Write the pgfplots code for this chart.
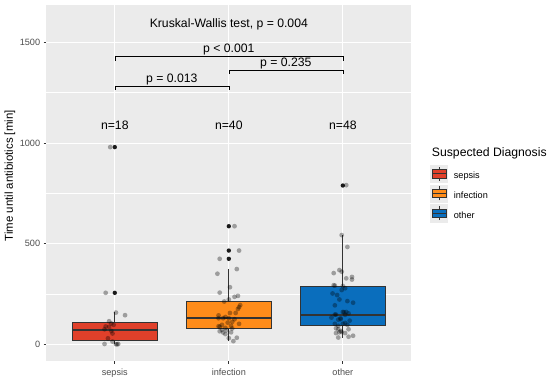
\documentclass[border=0pt]{standalone}
\usepackage{fontspec}
\setmainfont{Liberation Sans}
\usepackage{pgfplots}
\pgfplotsset{compat=1.18}
\usepackage{pgfplotstable}
\definecolor{panel}{HTML}{EBEBEB}
\definecolor{csep}{HTML}{E0402A}
\definecolor{cinf}{HTML}{FF8C1A}
\definecolor{coth}{HTML}{0A6EBD}
\definecolor{gtwenty}{HTML}{333333}
\definecolor{gthirty}{HTML}{4D4D4D}
\newcommand{\annfont}{\fontsize{12.3}{14}\selectfont}
\newcommand{\boxkey}[1]{\addlegendimage{legend image code/.code={
  \fill[panel] (0pt,-6.15pt) rectangle (17.3pt,11.15pt);
  \draw[gtwenty,line width=0.6pt] (8.65pt,-4.6pt) -- (8.65pt,9.6pt);
  \filldraw[fill=#1,draw=gtwenty,line width=0.6pt] (1.9pt,-1.8pt) rectangle (15.4pt,6.8pt);
  \draw[gtwenty,line width=1.1pt] (1.9pt,2.5pt) -- (15.4pt,2.5pt);
}}}
\pgfplotstableread{
x y
0.96 980
0.92 256
1.01 158
1.09 145
0.95 115
0.99 97
0.92 89
0.95 87
0.91 75
0.97 67
0.98 54
0.94 30
0.98 14
0.91 2
1.01 1
1.02 0
1.03 2
0.97 104
}\sepsispts
\pgfplotstableread{
x y
2.05 587
2.09 466
1.92 425
2.07 374
1.90 351
2.01 284
1.92 257
2.05 236
2.08 241
2.00 223
1.96 213
2.10 195
2.09 185
2.08 176
2.06 156
2.01 156
1.91 144
1.97 136
1.95 130
2.00 130
2.05 125
1.91 130
2.03 112
2.09 102
1.99 108
1.94 97
1.91 90
1.92 88
2.02 92
1.97 82
2.03 79
1.98 70
1.92 65
1.95 59
1.97 51
2.02 60
2.07 33
2.00 31
2.04 16
1.94 72
}\infpts
\pgfplotstableread{
x y
3.03 791
2.99 543
3.04 484
2.97 369
2.99 361
2.92 354
3.08 335
3.08 322
3.03 328
2.92 294
3.00 290
3.02 279
2.91 253
2.95 245
2.97 223
3.04 215
3.09 207
2.93 194
3.00 161
3.03 161
3.05 154
2.93 148
2.94 148
3.02 147
2.90 133
2.98 130
2.96 123
3.06 118
3.02 107
2.93 102
3.00 102
2.96 92
3.04 97
2.94 80
2.96 75
3.05 75
2.98 67
2.94 56
3.02 56
2.97 60
3.09 43
3.05 38
2.96 34
2.99 62
2.98 125
3.01 160
2.93 292
2.99 270
}\otherpts
\begin{document}
\begin{tikzpicture}
\begin{axis}[
  at={(0,0)}, anchor=south west,
  scale only axis, width=367.3pt, height=358.3pt,
  xmin=0.4, xmax=3.6, ymin=-82, ymax=1686,
  axis background/.style={fill=panel},
  axis line style={draw=none},
  axis lines*=left,
  xtick={1,2,3}, xticklabels={sepsis,infection,other},
  ytick={0,500,1000,1500},
  minor ytick={250,750,1250},
  minor tick length=0pt,
  grid=both,
  major grid style={white,line width=1pt},
  minor grid style={white,line width=0.5pt},
  tick align=outside, major tick length=2.75pt,
  tick style={gtwenty,line width=0.8pt},
  /pgf/number format/assume math mode=true,
  /pgf/number format/1000 sep={},
  tick label style={gthirty,font=\fontsize{9.2}{11}\selectfont},
  xticklabel style={yshift=-1.5pt},
  ylabel={Time until antibiotics [min]},
  ylabel style={font=\fontsize{11.5}{13}\selectfont, at={(axis description cs:-0.0999,0.52)}, anchor=center},
  legend style={at={(1.0517,0.5515)}, anchor=north west, draw=none, fill=none, inner sep=0pt,
    font=\fontsize{9.2}{11}\selectfont, row sep=2.2pt, column sep=6pt,
    nodes={inner sep=0pt}},
  legend cell align=left,
  clip=false,
]
% whiskers
\addplot[gtwenty, line width=0.8pt, forget plot] coordinates {(1,0) (1,20)};
\addplot[gtwenty, line width=0.8pt, forget plot] coordinates {(1,110) (1,161)};
\addplot[gtwenty, line width=0.8pt, forget plot] coordinates {(2,15) (2,79)};
\addplot[gtwenty, line width=0.8pt, forget plot] coordinates {(2,215) (2,374)};
\addplot[gtwenty, line width=0.8pt, forget plot] coordinates {(3,33) (3,93)};
\addplot[gtwenty, line width=0.8pt, forget plot] coordinates {(3,289) (3,543)};
% boxes
\addplot[fill=csep, draw=gtwenty, line width=0.8pt, forget plot] coordinates {(0.625,20) (1.375,20) (1.375,110) (0.625,110) (0.625,20)};
\addplot[fill=cinf, draw=gtwenty, line width=0.8pt, forget plot] coordinates {(1.625,79) (2.375,79) (2.375,215) (1.625,215) (1.625,79)};
\addplot[fill=coth, draw=gtwenty, line width=0.8pt, forget plot] coordinates {(2.625,93) (3.375,93) (3.375,289) (2.625,289) (2.625,93)};
% medians
\addplot[gtwenty, line width=2pt, forget plot] coordinates {(0.625,72) (1.375,72)};
\addplot[gtwenty, line width=2pt, forget plot] coordinates {(1.625,130) (2.375,130)};
\addplot[gtwenty, line width=2pt, forget plot] coordinates {(2.625,146) (3.375,146)};
% outliers
\addplot[only marks, mark=*, mark size=2.2pt, mark options={fill=black!90, draw opacity=0}, forget plot] coordinates {(1,256) (1,980) (2,425) (2,466) (2,587) (3,789)};
% jittered points
\addplot[only marks, mark=*, mark size=2.4pt, mark options={fill=black, fill opacity=0.33, draw opacity=0}, forget plot] table[x=x,y=y] {\sepsispts};
\addplot[only marks, mark=*, mark size=2.4pt, mark options={fill=black, fill opacity=0.33, draw opacity=0}, forget plot] table[x=x,y=y] {\infpts};
\addplot[only marks, mark=*, mark size=2.4pt, mark options={fill=black, fill opacity=0.33, draw opacity=0}, forget plot] table[x=x,y=y] {\otherpts};
% brackets
\addplot[black, line width=0.6pt, forget plot] coordinates {(1,1410) (1,1431) (3,1431) (3,1410)};
\addplot[black, line width=0.6pt, forget plot] coordinates {(2,1345) (2,1359) (3,1359) (3,1345)};
\addplot[black, line width=0.6pt, forget plot] coordinates {(1,1266) (1,1280) (2,1280) (2,1266)};
\node[font=\annfont] at (axis cs:2,1592) {Kruskal-Wallis test, p = 0.004};
\node[font=\annfont] at (axis cs:2,1467) {p < 0.001};
\node[font=\annfont] at (axis cs:2.5,1393) {p = 0.235};
\node[font=\annfont] at (axis cs:1.5,1316) {p = 0.013};
\node[font=\annfont] at (axis cs:1,1089) {n=18};
\node[font=\annfont] at (axis cs:2,1089) {n=40};
\node[font=\annfont] at (axis cs:3,1089) {n=48};
\node[font=\annfont, anchor=west] at (rel axis cs:1.047,0.5842) {Suspected Diagnosis};
\boxkey{csep}\addlegendentry{sepsis}
\boxkey{cinf}\addlegendentry{infection}
\boxkey{coth}\addlegendentry{other}
\end{axis}
\path (-46.7pt,-18.7pt) rectangle (503.3pt,363.3pt);
\end{tikzpicture}
\end{document}
